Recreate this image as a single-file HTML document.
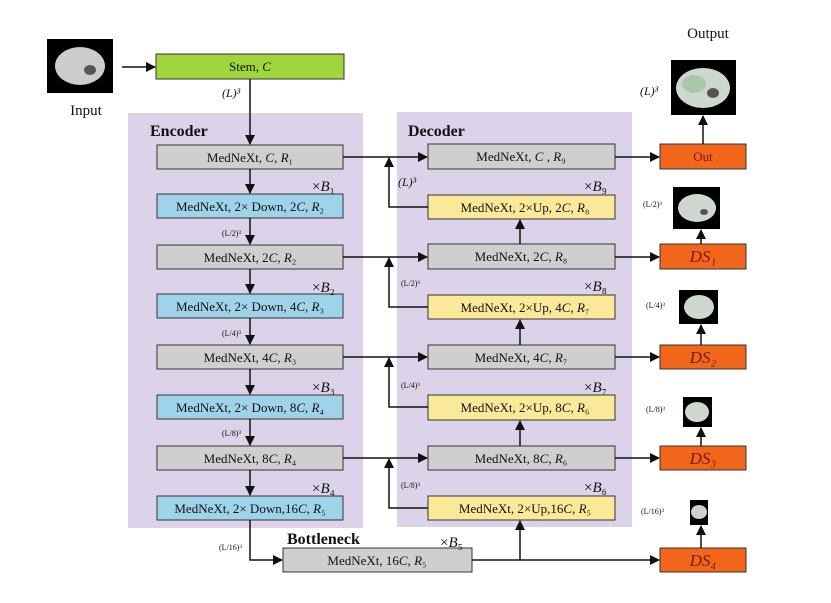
<!DOCTYPE html>
<html><head><meta charset="utf-8"><style>
body{margin:0;background:#fff}
svg{display:block}
text{font-family:"Liberation Serif",serif;fill:#111}
.b{font-size:13px;text-anchor:middle}
.i{font-style:italic}
.s{font-size:8px;fill:#555}
</style></head><body>
<svg width="831" height="603" viewBox="0 0 831 603" xmlns="http://www.w3.org/2000/svg">
<defs><marker id="a" markerWidth="10" markerHeight="10" refX="9" refY="5" orient="auto" markerUnits="userSpaceOnUse"><path d="M0,0 L10,5 L0,10 z" fill="#111"/></marker></defs>
<rect x="128" y="113" width="235" height="415" fill="#dcd3ea"/>
<rect x="397" y="112" width="235" height="415" fill="#dcd3ea"/>
<text x="150" y="136" style="font-size:16px;font-weight:bold">Encoder</text>
<text x="408" y="136" style="font-size:16px;font-weight:bold">Decoder</text>
<text x="287" y="544" style="font-size:16px;font-weight:bold">Bottleneck</text>

<!-- input -->
<rect x="47" y="39" width="66" height="54" fill="#000"/>
<ellipse cx="80" cy="66" rx="25" ry="19" fill="#ccc"/><ellipse cx="90" cy="70" rx="6" ry="5" fill="#555"/>
<text x="86" y="115" style="font-size:15px;text-anchor:middle">Input</text>
<line x1="122" y1="67" x2="155" y2="67" stroke="#111" stroke-width="1.5" marker-end="url(#a)"/>
<rect x="156" y="54" width="188" height="25" fill="#a0d63c" stroke="#333"/>
<text class="b" x="250" y="71">Stem, <tspan class="i">C</tspan></text>
<text x="222" y="97" style="font-size:12px" class="i">(L)³</text>
<line x1="250" y1="79" x2="250" y2="144" stroke="#111" stroke-width="1.5" marker-end="url(#a)"/>

<!-- encoder -->
<g stroke="#333">
<rect x="157" y="145" width="186" height="24" fill="#cfcfcf"/>
<rect x="157" y="194" width="186" height="24" fill="#9fd3ea"/>
<rect x="157" y="245" width="186" height="24" fill="#cfcfcf"/>
<rect x="157" y="294" width="186" height="24" fill="#9fd3ea"/>
<rect x="157" y="345" width="186" height="24" fill="#cfcfcf"/>
<rect x="157" y="395" width="186" height="24" fill="#9fd3ea"/>
<rect x="157" y="446" width="186" height="24" fill="#cfcfcf"/>
<rect x="157" y="496" width="186" height="24" fill="#9fd3ea"/>
<rect x="283" y="548" width="189" height="24" fill="#cfcfcf"/>
<rect x="428" y="144" width="187" height="25" fill="#cfcfcf"/>
<rect x="428" y="195" width="187" height="24" fill="#fbe99a"/>
<rect x="428" y="244" width="187" height="25" fill="#cfcfcf"/>
<rect x="428" y="295" width="187" height="24" fill="#fbe99a"/>
<rect x="428" y="345" width="187" height="24" fill="#cfcfcf"/>
<rect x="428" y="395" width="187" height="25" fill="#fbe99a"/>
<rect x="428" y="446" width="187" height="24" fill="#cfcfcf"/>
<rect x="428" y="496" width="187" height="24" fill="#fbe99a"/>
<rect x="660" y="144" width="86" height="25" fill="#f2661c"/>
<rect x="660" y="244" width="86" height="25" fill="#f2661c"/>
<rect x="660" y="345" width="86" height="24" fill="#f2661c"/>
<rect x="660" y="446" width="86" height="24" fill="#f2661c"/>
<rect x="660" y="548" width="86" height="24" fill="#f2661c"/>
</g>
<text class="b" x="250" y="162">MedNeXt, <tspan class="i">C</tspan>, <tspan class="i">R</tspan>₁</text>
<text class="b" x="250" y="211">MedNeXt, 2× Down, 2<tspan class="i">C</tspan>, <tspan class="i">R</tspan>₂</text>
<text class="b" x="250" y="262">MedNeXt, 2<tspan class="i">C</tspan>, <tspan class="i">R</tspan>₂</text>
<text class="b" x="250" y="311">MedNeXt, 2× Down, 4<tspan class="i">C</tspan>, <tspan class="i">R</tspan>₃</text>
<text class="b" x="250" y="362">MedNeXt, 4<tspan class="i">C</tspan>, <tspan class="i">R</tspan>₃</text>
<text class="b" x="250" y="412">MedNeXt, 2× Down, 8<tspan class="i">C</tspan>, <tspan class="i">R</tspan>₄</text>
<text class="b" x="250" y="463">MedNeXt, 8<tspan class="i">C</tspan>, <tspan class="i">R</tspan>₄</text>
<text class="b" x="250" y="513">MedNeXt, 2× Down,16<tspan class="i">C</tspan>, <tspan class="i">R</tspan>₅</text>
<text class="b" x="377" y="565">MedNeXt, 16<tspan class="i">C</tspan>, <tspan class="i">R</tspan>₅</text>
<text class="b" x="521" y="161">MedNeXt, <tspan class="i">C</tspan> , <tspan class="i">R</tspan>₉</text>
<text class="b" x="525" y="212">MedNeXt, 2×Up, 2<tspan class="i">C</tspan>, <tspan class="i">R</tspan>₈</text>
<text class="b" x="521" y="261">MedNeXt, 2<tspan class="i">C</tspan>, <tspan class="i">R</tspan>₈</text>
<text class="b" x="525" y="312">MedNeXt, 2×Up, 4<tspan class="i">C</tspan>, <tspan class="i">R</tspan>₇</text>
<text class="b" x="521" y="362">MedNeXt, 4<tspan class="i">C</tspan>, <tspan class="i">R</tspan>₇</text>
<text class="b" x="525" y="412">MedNeXt, 2×Up, 8<tspan class="i">C</tspan>, <tspan class="i">R</tspan>₆</text>
<text class="b" x="521" y="463">MedNeXt, 8<tspan class="i">C</tspan>, <tspan class="i">R</tspan>₆</text>
<text class="b" x="525" y="513">MedNeXt, 2×Up,16<tspan class="i">C</tspan>, <tspan class="i">R</tspan>₅</text>
<text class="b" x="703" y="161" style="fill:#7a1a00">Out</text>
<text class="b i" x="703" y="262" style="font-size:17px;fill:#7a1a00">DS₁</text>
<text class="b i" x="703" y="363" style="font-size:17px;fill:#7a1a00">DS₂</text>
<text class="b i" x="703" y="464" style="font-size:17px;fill:#7a1a00">DS₃</text>
<text class="b i" x="703" y="566" style="font-size:17px;fill:#7a1a00">DS₄</text>

<g style="font-size:15px">
<text x="312" y="191">×<tspan class="i">B</tspan>₁</text>
<text x="312" y="292">×<tspan class="i">B</tspan>₂</text>
<text x="312" y="392">×<tspan class="i">B</tspan>₃</text>
<text x="312" y="493">×<tspan class="i">B</tspan>₄</text>
<text x="440" y="547">×<tspan class="i">B</tspan>₅</text>
<text x="584" y="492">×<tspan class="i">B</tspan>₆</text>
<text x="584" y="392">×<tspan class="i">B</tspan>₇</text>
<text x="584" y="291">×<tspan class="i">B</tspan>₈</text>
<text x="584" y="191">×<tspan class="i">B</tspan>₉</text>
</g>

<!-- connectors -->
<g stroke="#111" stroke-width="1.5" fill="none">
<line x1="250" y1="169" x2="250" y2="193" marker-end="url(#a)"/>
<line x1="250" y1="218" x2="250" y2="244" marker-end="url(#a)"/>
<line x1="250" y1="269" x2="250" y2="293" marker-end="url(#a)"/>
<line x1="250" y1="318" x2="250" y2="344" marker-end="url(#a)"/>
<line x1="250" y1="369" x2="250" y2="394" marker-end="url(#a)"/>
<line x1="250" y1="419" x2="250" y2="445" marker-end="url(#a)"/>
<line x1="250" y1="470" x2="250" y2="495" marker-end="url(#a)"/>
<polyline points="250,520 250,560 282,560" marker-end="url(#a)"/>
<line x1="472" y1="560" x2="659" y2="560" marker-end="url(#a)"/>
<line x1="520" y1="560" x2="520" y2="521" marker-end="url(#a)"/>
<line x1="343" y1="157" x2="427" y2="157" marker-end="url(#a)"/>
<line x1="343" y1="257" x2="427" y2="257" marker-end="url(#a)"/>
<line x1="343" y1="357" x2="427" y2="357" marker-end="url(#a)"/>
<line x1="343" y1="458" x2="427" y2="458" marker-end="url(#a)"/>
<polyline points="428,207 389,207 389,158" marker-end="url(#a)"/>
<polyline points="428,307 389,307 389,258" marker-end="url(#a)"/>
<polyline points="428,407 389,407 389,358" marker-end="url(#a)"/>
<polyline points="428,508 389,508 389,459" marker-end="url(#a)"/>
<line x1="520" y1="244" x2="520" y2="220" marker-end="url(#a)"/>
<line x1="520" y1="345" x2="520" y2="320" marker-end="url(#a)"/>
<line x1="520" y1="446" x2="520" y2="421" marker-end="url(#a)"/>
<line x1="615" y1="157" x2="659" y2="157" marker-end="url(#a)"/>
<line x1="615" y1="257" x2="659" y2="257" marker-end="url(#a)"/>
<line x1="615" y1="357" x2="659" y2="357" marker-end="url(#a)"/>
<line x1="615" y1="458" x2="659" y2="458" marker-end="url(#a)"/>
<line x1="703" y1="144" x2="703" y2="116" marker-end="url(#a)"/>
<line x1="701" y1="244" x2="701" y2="230" marker-end="url(#a)"/>
<line x1="701" y1="345" x2="701" y2="325" marker-end="url(#a)"/>
<line x1="701" y1="446" x2="701" y2="428" marker-end="url(#a)"/>
<line x1="701" y1="548" x2="701" y2="526" marker-end="url(#a)"/>
</g>

<!-- outputs -->
<text x="708" y="38" style="font-size:15px;text-anchor:middle">Output</text>
<rect x="671" y="60" width="65" height="55" fill="#000"/>
<ellipse cx="703" cy="88" rx="27" ry="20" fill="#cfd8cf"/><ellipse cx="694" cy="84" rx="12" ry="9" fill="#a8c8a8"/><ellipse cx="713" cy="93" rx="6" ry="5" fill="#555"/>
<rect x="673" y="187" width="47" height="42" fill="#000"/>
<ellipse cx="697" cy="208" rx="19" ry="14" fill="#cfd8cf"/><ellipse cx="704" cy="212" rx="4" ry="3" fill="#555"/>
<rect x="679" y="290" width="39" height="34" fill="#000"/>
<ellipse cx="699" cy="307" rx="15" ry="12" fill="#cfd8cf"/>
<rect x="683" y="397" width="29" height="30" fill="#000"/>
<ellipse cx="697" cy="412" rx="12" ry="10" fill="#cfd8cf"/>
<rect x="690" y="500" width="18" height="25" fill="#000"/>
<ellipse cx="699" cy="512" rx="8" ry="7" fill="#cfcfcf"/>
<text x="640" y="95" style="font-size:12px" class="i">(L)³</text>
<g class="s">
<text x="643" y="207">(L/2)³</text>
<text x="646" y="308">(L/4)³</text>
<text x="646" y="412">(L/8)³</text>
<text x="641" y="514">(L/16)³</text>
<text x="222" y="236">(L/2)³</text>
<text x="222" y="336">(L/4)³</text>
<text x="222" y="436">(L/8)³</text>
<text x="219" y="550">(L/16)³</text>
<text x="401" y="286">(L/2)³</text>
<text x="401" y="388">(L/4)³</text>
<text x="401" y="488">(L/8)³</text>
</g>
<text x="398" y="186" style="font-size:12px" class="i">(L)³</text>
</svg>
</body></html>
